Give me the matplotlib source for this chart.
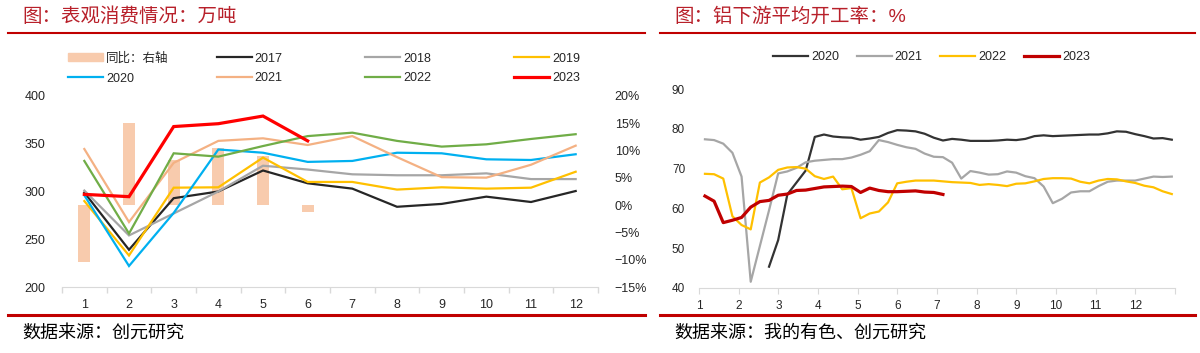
import numpy as np
import matplotlib
matplotlib.use("Agg")
import matplotlib.pyplot as plt
from matplotlib.lines import Line2D
from matplotlib.patches import Patch
from matplotlib.ticker import FuncFormatter

plt.rcParams["font.family"] = ["Liberation Sans", "Noto Sans CJK SC"]

# left panel: apparent consumption (10k t) by month, yoy of 2023 on right axis
months = np.arange(1, 13)
cons_2017 = [299, 239, 293, 300, 322, 308.6, 303, 284, 287, 294.6, 289, 300.5]
cons_2018 = [301, 254, 277, 300, 327, 323, 318, 317, 317, 319, 313, 313]
cons_2019 = [290, 233, 304, 304.4, 335.5, 310, 310, 302, 304.4, 303, 304, 320.7]
cons_2020 = [296, 222, 277.5, 344, 340.6, 331, 332, 340.6, 340, 333.7, 333, 339]
cons_2021 = [344.5, 268, 330, 353, 355.7, 348.7, 358, 336, 315, 314.5, 328, 348]
cons_2022 = [332, 256, 340, 336.5, 347.6, 358, 361.6, 353, 347, 349.4, 355, 360]
cons_2023 = [297, 294.6, 368, 371, 379, 353]
yoy_2023 = [-10.4, 15.1, 8.3, 10.4, 9.0, -1.2]

# right panel: weekly downstream operating rate (%), first week index + values
rate_2020_start = 8
rate_2020 = [45.3, 52, 63.5, 66.5, 69.5, 78, 78.6, 78.1, 77.9, 77.8, 77.3, 77.6,
             78.0, 79.0, 79.7, 79.6, 79.4, 78.8, 77.8, 77.1, 77.5, 77.3, 77.0, 77.0,
             77.0, 77.1, 77.3, 77.2, 77.5, 78.2, 78.4, 78.2, 78.3, 78.4, 78.5, 78.6,
             78.6, 78.9, 79.4, 79.3, 78.7, 78.2, 77.6, 77.7, 77.3]
rate_2021_start = 1
rate_2021 = [77.4, 77.2, 76.3, 74, 68, 41.5, 50.5, 59.5, 68.8, 69.3, 70.2, 71.6,
             72.0, 72.2, 72.4, 72.4, 72.8, 73.5, 74.4, 77.2, 76.7, 76.0, 75.4, 75.0,
             73.8, 73.0, 72.9, 71.5, 67.5, 69.4, 69.0, 68.5, 68.6, 69.3, 69.0, 68.1,
             67.6, 65.5, 61.3, 62.4, 64.0, 64.3, 64.3, 65.6, 66.7, 67.0, 67.0, 67.0,
             67.5, 68.0, 67.9, 68.0]
rate_2022_start = 1
rate_2022 = [68.7, 68.6, 67.5, 58, 55.8, 54.7, 66.5, 67.8, 69.7, 70.3, 70.4, 70.0,
             68.1, 67.4, 68, 64.8, 65.1, 57.5, 58.7, 59.2, 61.5, 66.3, 66.7, 67,
             67, 67, 66.8, 66.6, 66.5, 66.4, 65.9, 66.1, 65.9, 65.6, 66.2, 66.3,
             66.8, 67.4, 67.6, 67.6, 67.5, 66.7, 66.3, 67.0, 67.4, 67.3, 66.8, 66.4,
             65.7, 65.3, 64.3, 63.6]
rate_2023_start = 1
rate_2023 = [63.1, 61.8, 56.4, 57.0, 57.7, 60.3, 61.7, 62.0, 63.3, 63.6, 64.5, 64.6,
             65.0, 65.4, 65.5, 65.6, 65.5, 64.0, 65.1, 64.5, 64.2, 64.2, 64.3, 64.4,
             64.1, 64.0, 63.5]

W, H = 1200, 353
RED = "#C00000"
TXT = "#262626"
SPINE = "#D9D9D9"


def fx(px):
    return px / W


def fy(py):
    return 1 - py / H


def week_x(start, values):
    w = start + np.arange(len(values))
    return 1 + (w - 0.35) * 12 / 52


fig = plt.figure(figsize=(W / 100, H / 100), dpi=100)

# ---------------- left panel ----------------
ax = fig.add_axes([fx(62), fy(287), fx(598 - 62), (287 - 96) / H])
ax2 = ax.twinx()
ax.set_zorder(ax2.get_zorder() + 1)
ax.patch.set_visible(False)

bar_color = "#F8CBAD"
ax2.bar(months[:len(yoy_2023)], yoy_2023, width=0.27, color=bar_color)
ax2.set_ylim(-15, 20)
ax2.set_yticks(np.arange(-15, 21, 5))
ax2.yaxis.set_major_formatter(FuncFormatter(lambda v, _: f"{v:.0f}%".replace("-", "\u2212")))

left_series = [
    ("2017", cons_2017, "#262626", 1.6),
    ("2018", cons_2018, "#A6A6A6", 1.6),
    ("2019", cons_2019, "#FFC000", 1.6),
    ("2020", cons_2020, "#00B0F0", 1.6),
    ("2021", cons_2021, "#F4B183", 1.6),
    ("2022", cons_2022, "#70AD47", 1.6),
    ("2023", cons_2023, "#FF0000", 2.3),
]
for name, vals, col, lw in left_series:
    ax.plot(months[:len(vals)], vals, color=col, lw=lw, solid_joinstyle="miter")

ax.set_xlim(0.5, 12.5)
ax.set_ylim(200, 400)
ax.set_yticks(np.arange(200, 401, 50))
ax.set_xticks(months)
ax.set_xticks(np.arange(0.5, 12.6, 1), minor=True)
ax.tick_params(axis="x", which="major", length=0, pad=9, labelsize=9, labelcolor=TXT)
ax.tick_params(axis="x", which="minor", length=4, color=SPINE, width=1)
ax.tick_params(axis="y", length=0, pad=12, labelsize=9, labelcolor=TXT)
ax2.tick_params(axis="y", length=0, pad=12, labelsize=9, labelcolor=TXT)
for s in ["top", "left", "right"]:
    ax.spines[s].set_visible(False)
ax.spines["bottom"].set_color(SPINE)
for s in ax2.spines.values():
    s.set_visible(False)

# legend: four fixed-width columns of two rows each
legend_cols = [
    [(Patch(color=bar_color), "同比：右轴"), (Line2D([], [], color="#00B0F0", lw=1.6), "2020")],
    [(Line2D([], [], color="#262626", lw=1.6), "2017"), (Line2D([], [], color="#F4B183", lw=1.6), "2021")],
    [(Line2D([], [], color="#A6A6A6", lw=1.6), "2018"), (Line2D([], [], color="#70AD47", lw=1.6), "2022")],
    [(Line2D([], [], color="#FFC000", lw=1.6), "2019"), (Line2D([], [], color="#FF0000", lw=2.3), "2023")],
]
col_x = [68, 216.5, 365, 514]
for x0, entries in zip(col_x, legend_cols):
    lg = fig.legend([e[0] for e in entries], [e[1] for e in entries], loc="center left",
                    bbox_to_anchor=(fx(x0), fy(68.5)), frameon=False, borderpad=0,
                    borderaxespad=0, handlelength=2.8, handletextpad=0.25,
                    labelspacing=0.62, fontsize=9, handleheight=0.6)
    for t in lg.get_texts():
        t.set_color(TXT)

# ---------------- right panel ----------------
bx = fig.add_axes([fx(699), fy(287.7), fx(1175 - 699), (287.7 - 89.3) / H])
right_series = [
    ("2020", rate_2020_start, rate_2020, "#333333", 1.6),
    ("2021", rate_2021_start, rate_2021, "#A6A6A6", 1.6),
    ("2022", rate_2022_start, rate_2022, "#FFC000", 1.6),
    ("2023", rate_2023_start, rate_2023, "#C00000", 2.3),
]
for name, start, vals, col, lw in right_series:
    bx.plot(week_x(start, vals), vals, color=col, lw=lw, label=name)

bx.set_xlim(1, 13)
bx.set_ylim(40, 90)
bx.set_yticks(np.arange(40, 91, 10))
bx.set_xticks(np.arange(1, 14))
bx.set_xticklabels([str(m) for m in range(1, 13)] + [""])
bx.tick_params(axis="x", length=4, color=SPINE, pad=5, labelsize=8.5, labelcolor=TXT)
bx.tick_params(axis="y", length=0, pad=10, labelsize=8.5, labelcolor=TXT)
for s in ["top", "left", "right"]:
    bx.spines[s].set_visible(False)
bx.spines["bottom"].set_color(SPINE)

lg = bx.legend(loc="center left", bbox_to_anchor=(fx(773), fy(57)),
               bbox_transform=fig.transFigure, ncol=4, frameon=False, borderpad=0,
               borderaxespad=0, handlelength=2.8, handletextpad=0.25,
               columnspacing=1.4, fontsize=9)
for t in lg.get_texts():
    t.set_color(TXT)

# ---------------- titles, rules and sources ----------------
title_color = "#B8202A"
fig.text(fx(22), fy(17), "图：表观消费情况：万吨", fontsize=14, color=title_color, va="center")
fig.text(fx(674), fy(17), "图：铝下游平均开工率：%", fontsize=14, color=title_color, va="center")
for x0, x1 in [(8, 645), (660, 1195)]:
    fig.add_artist(Line2D([fx(x0), fx(x1)], [fy(33), fy(33)], color=RED, lw=1.5))
    fig.add_artist(Line2D([fx(x0), fx(x1)], [fy(315), fy(315)], color=RED, lw=2.2))
fig.text(fx(22), fy(333), "数据来源：创元研究", fontsize=13, color="black", va="center")
fig.text(fx(674), fy(333), "数据来源：我的有色、创元研究", fontsize=13, color="black", va="center")

fig.savefig("out.png", dpi=100)
